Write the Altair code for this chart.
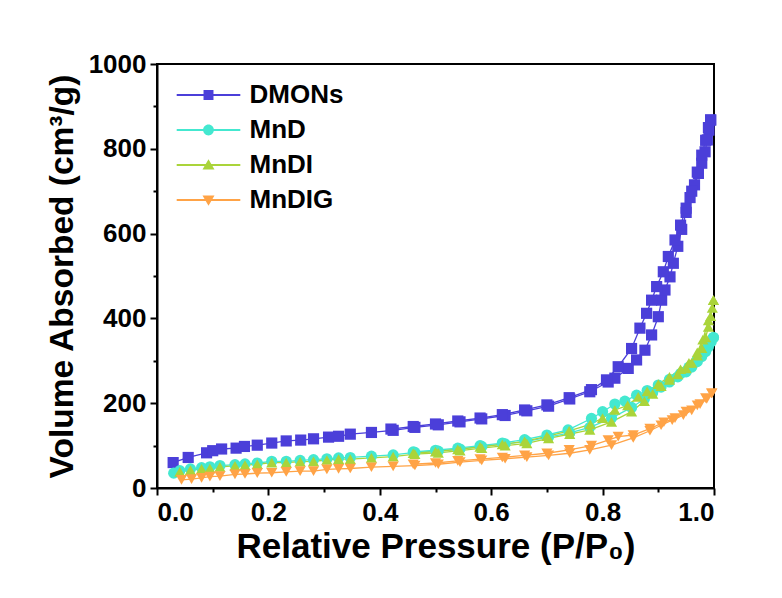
import altair as alt
import pandas as pd

# N2 sorption isotherms: adsorption and desorption branches per sample
SERIES = ["DMONs", "MnD", "MnDI", "MnDIG"]
COLORS = ["#4B3FD9", "#44E8D0", "#AAD43A", "#FFA346"]

DMONS_ADS_P = [0.029, 0.056, 0.089, 0.100, 0.116, 0.142, 0.157, 0.180, 0.206, 0.232, 0.258, 0.281,
               0.308, 0.326, 0.347, 0.385, 0.424, 0.463, 0.505, 0.544, 0.583, 0.625, 0.664, 0.703,
               0.741, 0.777, 0.810, 0.822, 0.846, 0.861, 0.876, 0.888, 0.900, 0.906, 0.912, 0.921,
               0.927, 0.935, 0.942, 0.950, 0.957, 0.965, 0.972, 0.978, 0.984, 0.988, 0.991, 0.994]
DMONS_ADS_V = [60, 72, 83, 88, 92, 94, 98, 101, 106, 111, 113, 116,
               120, 122, 127, 131, 136, 143, 149, 156, 163, 171, 182, 193,
               210, 227, 250, 259, 282, 302, 325, 361, 404, 443, 467, 498,
               530, 570, 610, 650, 685, 715, 742, 766, 793, 821, 844, 868]
DMONS_DES_P = [0.994, 0.990, 0.985, 0.978, 0.970, 0.960, 0.950, 0.940, 0.930, 0.918, 0.909, 0.897,
               0.888, 0.879, 0.867, 0.852, 0.828, 0.807, 0.780, 0.740, 0.700, 0.660, 0.620, 0.580,
               0.540, 0.500, 0.460, 0.420]
DMONS_DES_V = [868, 850, 820, 785, 745, 700, 660, 620, 585, 546, 510, 475,
               443, 412, 377, 329, 286, 255, 232, 213, 196, 184, 173, 165,
               158, 151, 145, 139]

MND_ADS_P = [0.030, 0.041, 0.060, 0.080, 0.095, 0.113, 0.140, 0.158, 0.180, 0.206, 0.232, 0.257,
             0.281, 0.305, 0.326, 0.347, 0.385, 0.424, 0.463, 0.505, 0.544, 0.583, 0.625, 0.664,
             0.703, 0.741, 0.777, 0.816, 0.852, 0.875, 0.890, 0.905, 0.920, 0.935, 0.950, 0.960,
             0.970, 0.978, 0.985, 0.990, 0.995, 0.999]
MND_ADS_V = [35, 41, 45, 48, 50, 53, 55, 57, 59, 63, 63, 65,
             67, 69, 71, 72, 75, 78, 84, 87, 92, 98, 104, 110,
             120, 130, 143, 165, 190, 210, 225, 238, 250, 262, 274, 285,
             298, 310, 322, 333, 345, 355]
MND_DES_P = [0.999, 0.990, 0.980, 0.970, 0.955, 0.940, 0.920, 0.900, 0.880, 0.861, 0.840,
             0.822, 0.800, 0.780, 0.738, 0.700, 0.660, 0.620, 0.580, 0.540, 0.500, 0.460]
MND_DES_V = [355, 340, 318, 302, 285, 270, 256, 243, 230, 219, 205,
             198, 180, 164, 137, 125, 114, 106, 100, 94, 89, 85]

MNDI_ADS_P = [0.041, 0.060, 0.080, 0.095, 0.113, 0.140, 0.158, 0.180, 0.206, 0.232, 0.257, 0.281,
              0.305, 0.326, 0.347, 0.385, 0.424, 0.463, 0.505, 0.544, 0.583, 0.625, 0.664, 0.703,
              0.741, 0.777, 0.816, 0.852, 0.875, 0.890, 0.905, 0.920, 0.935, 0.950, 0.960, 0.970,
              0.978, 0.985, 0.990, 0.994, 0.997, 0.999]
MNDI_ADS_V = [38, 42, 45, 46, 50, 52, 54, 56, 60, 60, 62, 63,
              66, 68, 68, 71, 74, 80, 83, 88, 94, 100, 105, 117,
              127, 137, 156, 180, 205, 222, 240, 255, 268, 282, 295, 312,
              330, 355, 380, 405, 425, 443]
MNDI_DES_P = [0.999, 0.990, 0.980, 0.970, 0.955, 0.940, 0.920, 0.900, 0.880, 0.864, 0.845,
              0.822, 0.800, 0.778, 0.740, 0.700, 0.660, 0.620, 0.580, 0.540, 0.500, 0.460]
MNDI_DES_V = [443, 395, 350, 320, 295, 280, 262, 245, 228, 215, 195,
              184, 165, 150, 135, 122, 110, 103, 97, 91, 86, 82]

MNDIG_ADS_P = [0.044, 0.062, 0.080, 0.095, 0.113, 0.140, 0.158, 0.180, 0.206, 0.232, 0.257, 0.281,
               0.305, 0.326, 0.347, 0.385, 0.424, 0.463, 0.505, 0.544, 0.583, 0.625, 0.664, 0.703,
               0.741, 0.777, 0.816, 0.855, 0.885, 0.905, 0.925, 0.945, 0.960, 0.975, 0.987, 0.996]
MNDIG_ADS_V = [19, 21, 24, 27, 28, 32, 33, 35, 36, 38, 40, 40,
               44, 45, 46, 49, 51, 53, 56, 61, 65, 69, 73, 77,
               82, 90, 101, 118, 135, 148, 160, 172, 183, 198, 210, 223]
MNDIG_DES_P = [0.996, 0.985, 0.970, 0.950, 0.930, 0.910, 0.885, 0.855, 0.828, 0.810,
               0.780, 0.740, 0.700, 0.660, 0.620, 0.580, 0.540, 0.500, 0.460]
MNDIG_DES_V = [223, 212, 195, 180, 165, 155, 140, 125, 121, 113,
               100, 90, 82, 77, 72, 68, 64, 59, 56]

BRANCHES = {
    "DMONs": [(DMONS_ADS_P, DMONS_ADS_V), (DMONS_DES_P, DMONS_DES_V)],
    "MnD": [(MND_ADS_P, MND_ADS_V), (MND_DES_P, MND_DES_V)],
    "MnDI": [(MNDI_ADS_P, MNDI_ADS_V), (MNDI_DES_P, MNDI_DES_V)],
    "MnDIG": [(MNDIG_ADS_P, MNDIG_ADS_V), (MNDIG_DES_P, MNDIG_DES_V)],
}

rows = []
for s in SERIES:
    for b, (ps, vs) in enumerate(BRANCHES[s]):
        for i, (p, v) in enumerate(zip(ps, vs)):
            rows.append({"series": s, "branch": f"{s}-{b}", "idx": i, "p": p, "v": v})
df = pd.DataFrame(rows)

FONT = "Liberation Sans"

# marker glyphs and sizes for the plot
PLOT_SHAPES = ["square", "circle", "triangle-up", "triangle-down"]
PLOT_SIZES = [125, 125, 175, 175]
# legend glyphs: a short line with the marker in its middle
BAR = "M-5.3,-0.15H5.3V0.15H-5.3Z"
LEGEND_SHAPES = [
    BAR + "M-0.83,-0.83H0.83V0.83H-0.83Z",
    BAR + "M-0.9,0A0.9,0.9 0 1,1 0.9,0A0.9,0.9 0 1,1 -0.9,0Z",
    BAR + "M0,-0.95L1,0.75H-1Z",
    BAR + "M0,0.95L-1,-0.75H1Z",
]

x_enc = alt.X(
    "p:Q",
    scale=alt.Scale(domain=[0, 1], nice=False),
    axis=alt.Axis(
        title="Relative Pressure (P/P₀)",
        values=[round(i * 0.1, 1) for i in range(11)],
        labelExpr="abs(datum.value*5 - round(datum.value*5)) < 0.01 ? format(datum.value, '.1f') : ''",
        tickSize={"condition": {"test": "abs(datum.value*5 - round(datum.value*5)) < 0.01", "value": 7}, "value": 4},
        labelPadding=4,
        titlePadding=4,
        titleFontSize=35,
    ),
)
y_enc = alt.Y(
    "v:Q",
    scale=alt.Scale(domain=[0, 1000], nice=False),
    axis=alt.Axis(
        title="Volume Absorbed (cm³/g)",
        values=list(range(0, 1001, 100)),
        labelExpr="datum.value % 200 == 0 ? datum.value : ''",
        tickSize={"condition": {"test": "datum.value % 200 == 0", "value": 7}, "value": 4},
        labelPadding=4,
        titlePadding=9,
        titleFontSize=33.5,
    ),
)

color_scale = alt.Scale(domain=SERIES, range=COLORS)

lines = alt.Chart(df).mark_line(strokeWidth=1.3).encode(
    x=x_enc,
    y=y_enc,
    color=alt.Color("series:N", scale=color_scale, legend=None),
    detail="branch:N",
    order="idx:Q",
)

points = alt.Chart(df).mark_point(filled=True, opacity=1).encode(
    x=x_enc,
    y=y_enc,
    color=alt.Color("series:N", scale=color_scale, legend=None),
    shape=alt.Shape("series:N", scale=alt.Scale(domain=SERIES, range=PLOT_SHAPES), legend=None),
    size=alt.Size("series:N", scale=alt.Scale(domain=SERIES, range=PLOT_SIZES), legend=None),
)

legend_props = dict(
    title=None, orient="none", legendX=38.5, legendY=18, padding=0,
    labelFont=FONT, labelFontSize=26, labelFontWeight="bold", labelColor="black",
    symbolSize=144, labelOffset=28, rowPadding=9, symbolOpacity=1,
)

legend_layer = alt.Chart(df).mark_point(filled=True, opacity=0).encode(
    x=x_enc,
    y=y_enc,
    color=alt.Color("series:N", scale=color_scale, legend=alt.Legend(**legend_props)),
    shape=alt.Shape(
        "series:N",
        scale=alt.Scale(domain=SERIES, range=LEGEND_SHAPES),
        legend=alt.Legend(**legend_props),
    ),
)

chart = (
    alt.layer(lines, points, legend_layer)
    .resolve_scale(color="independent", shape="independent", size="independent")
    .properties(
        width=557,
        height=424,
        autosize=alt.AutoSizeParams(type="none"),
        padding={"left": 157, "top": 64, "right": 68, "bottom": 110},
        background="white",
    )
    .configure_view(stroke="black", strokeWidth=2)
    .configure_axis(
        grid=False,
        domainColor="black",
        domainWidth=2,
        tickColor="black",
        tickWidth=2,
        labelFont=FONT,
        labelFontSize=26,
        labelFontWeight="bold",
        labelColor="black",
        titleFont=FONT,
        titleFontWeight="bold",
        titleColor="black",
    )
)

chart.save("out.html", embed_options={"renderer": "svg", "actions": False})
